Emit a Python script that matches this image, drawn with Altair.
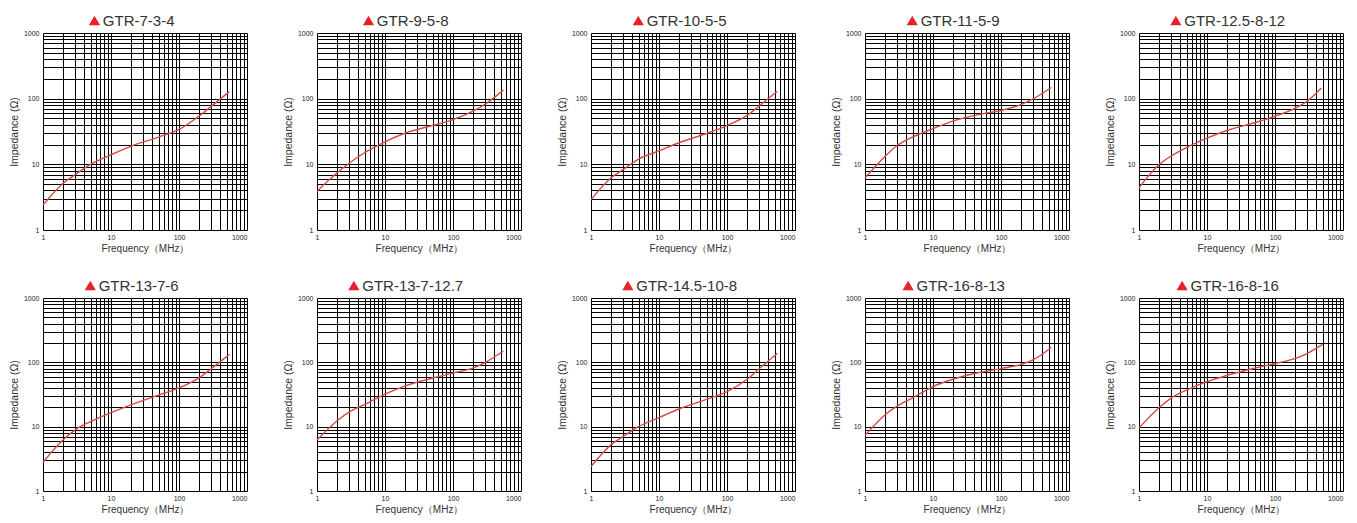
import altair as alt
import pandas as pd

names = ["GTR-7-3-4", "GTR-9-5-8", "GTR-10-5-5", "GTR-11-5-9", "GTR-12.5-8-12",
         "GTR-13-7-6", "GTR-13-7-12.7", "GTR-14.5-10-8", "GTR-16-8-13", "GTR-16-8-16"]
freq_base = [1, 2, 3, 5, 10, 20, 50, 100, 200, 300]
end_freq = [550, 550, 550, 550, 480, 550, 550, 550, 550, 500]
imp_7_3_4 = [2.4, 5.2, 7.0, 10, 14, 19, 26, 34, 55, 77, 128]
imp_9_5_8 = [3.9, 7.5, 10.5, 15, 22, 30, 39, 48, 65, 83, 135]
imp_10_5_5 = [2.9, 6.3, 8.4, 12, 16, 21.5, 29.5, 39, 56, 78, 130]
imp_11_5_9 = [6.2, 13.4, 19.5, 26, 35, 46, 58, 66, 82, 100, 148]
imp_12_5_8_12 = [4.4, 10, 13.5, 18, 25, 33, 43, 54, 72, 92, 145]
imp_13_7_6 = [2.8, 6.3, 9, 12, 16.5, 22, 31, 40, 58, 80, 133]
imp_13_7_12_7 = [6.2, 12.5, 17, 22, 32, 43, 57, 68, 82, 100, 150]
imp_14_5_10_8 = [2.4, 5.3, 7.1, 10, 13.8, 19, 26.5, 35, 55, 80, 138]
imp_16_8_13 = [7.3, 15.5, 21, 28, 42, 55, 70, 80, 93, 110, 170]
imp_16_8_16 = [9.5, 20, 28, 37, 50, 63, 81, 96, 115, 138, 190]
impedances = [imp_7_3_4, imp_9_5_8, imp_10_5_5, imp_11_5_9, imp_12_5_8_12,
              imp_13_7_6, imp_13_7_12_7, imp_14_5_10_8, imp_16_8_13, imp_16_8_16]
grid_vals = [m * 10 ** e for e in range(3) for m in range(1, 10)] + [1000]

LINE_RED = "#d84b44"
TRI_RED = "#e8202a"
FONT = "Liberation Sans"
W = 204
H_ROWS = [197, 193]
TITLE_FS = 15
CHAR_W = {"G": 0.778, "T": 0.611, "R": 0.722, "-": 0.333, ".": 0.278}


def text_width(s):
    return sum(CHAR_W.get(c, 0.556) for c in s) * TITLE_FS


label_expr = ("(datum.value==1||datum.value==10||datum.value==100||datum.value==1000)"
              " ? format(datum.value,'d') : ''")

common_axis = dict(values=grid_vals, labelExpr=label_expr, grid=True, gridColor="black",
                   gridWidth=1, gridOpacity=1, ticks=False, domain=False, labelFontSize=7,
                   labelColor="#222", labelFont=FONT, labelOverlap=False, labelFlush=False,
                   titleFont=FONT, titleFontWeight="normal", titleColor="#333")


def panel(name, imps, fend, h):
    df = pd.DataFrame({"freq": freq_base + [fend], "imp": imps})
    line = alt.Chart(df).mark_line(color=LINE_RED, strokeWidth=1.4, interpolate="monotone").encode(
        x=alt.X("freq:Q", scale=alt.Scale(type="log", domain=[1, 1000]),
                axis=alt.Axis(title="Frequency（MHz）", titleFontSize=10, labelPadding=3,
                              titlePadding=3, minExtent=10, maxExtent=10,
                              labelAlign=alt.condition("datum.value == 1000",
                                                       alt.value("right"), alt.value("center")),
                              **common_axis)),
        y=alt.Y("imp:Q", scale=alt.Scale(type="log", domain=[1, 1000]),
                axis=alt.Axis(title="Impedance (Ω)", titleFontSize=10.5, labelPadding=4,
                              titlePadding=4, minExtent=20, maxExtent=20, **common_axis)),
    )
    total = 14.4 + text_width(name)
    x_left = 88.5 - total / 2
    one = alt.Data(values=[{"k": 1}])
    tri = alt.Chart(one).mark_point(shape="triangle-up", filled=True, size=125, color=TRI_RED,
                                    opacity=1).encode(x=alt.value(x_left + 6), y=alt.value(-12.5))
    txt = alt.Chart(one).mark_text(align="left", baseline="middle", fontSize=TITLE_FS, font=FONT,
                                   color="#333").encode(
        x=alt.value(x_left + 14.4), y=alt.value(-12.5), text=alt.value(name))
    return alt.layer(line, tri, txt).properties(width=W, height=h)


panels = [panel(n, v, f, H_ROWS[i // 5])
          for i, (n, v, f) in enumerate(zip(names, impedances, end_freq))]
row1 = alt.hconcat(*panels[:5], spacing=34)
row2 = alt.hconcat(*panels[5:], spacing=34)
chart = alt.vconcat(row1, row2, spacing=24).properties(
    padding={"top": 5, "left": 0, "right": 0, "bottom": 0}
).configure_view(stroke="black", strokeWidth=1).configure(background="white")

chart.save("out.html", embed_options={"renderer": "svg", "actions": False})
